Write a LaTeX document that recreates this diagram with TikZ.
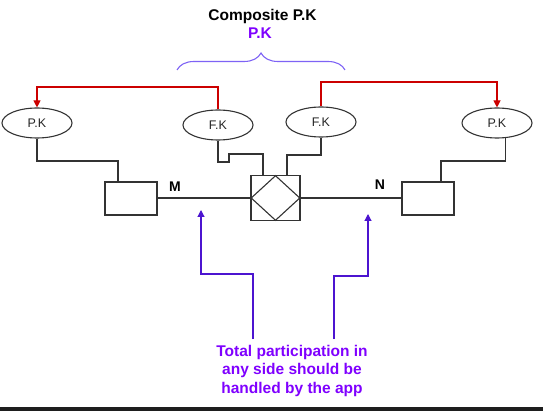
\documentclass[tikz,border=0pt]{standalone}
\usepackage{fontspec}
\setmainfont{Liberation Sans}
\usetikzlibrary{shapes.geometric,arrows.meta,decorations.pathreplacing}
\definecolor{lineg}{HTML}{333333}
\definecolor{redc}{HTML}{CC0000}
\definecolor{vio}{HTML}{7F00FF}
\definecolor{arrv}{HTML}{4C14D0}
\definecolor{bracec}{HTML}{7E63F5}
\definecolor{barc}{HTML}{1E1E1E}
\tikzset{
  attr/.style={draw=lineg,line width=1.1pt,ellipse,minimum width=70pt,minimum height=30pt,inner sep=0pt,font=\fontsize{12.5}{14}\selectfont,text=black!85},
  ent/.style={draw=lineg,line width=1.1pt,rectangle,minimum width=52pt,minimum height=33pt,inner sep=0pt},
  conn/.style={draw=lineg,line width=1.1pt},
  redarr/.style={draw=redc,line width=1.1pt,-{Triangle[width=7pt,length=7pt]}},
  vioarr/.style={draw=arrv,line width=1.1pt,-{Triangle[width=7pt,length=7pt]}},
  lbl/.style={font=\bfseries\fontsize{14}{16}\selectfont,text=black}
}
\begin{document}
\begin{tikzpicture}[x=1pt,y=-1pt]
\useasboundingbox (0,0) rectangle (543,411);
\fill[barc] (0,407) rectangle (543,411);
% title
\node[font=\bfseries\fontsize{15.5}{17}\selectfont] (title) at (262.5,16) {Composite P.K};
\node[font=\bfseries\fontsize{15.5}{17}\selectfont,text=vio] (pkt) at (260,33) {P.K};
\coordinate (brL) at (177,70);
\coordinate (brR) at (345,70);
\draw[bracec,line width=1.1pt,decorate,decoration={brace,amplitude=17pt}] (brL) -- (brR);
% attributes
\node[attr] (pk1) at (37,123) {P.K};
\node[attr] (fk1) at (218,125) {F.K};
\node[attr] (fk2) at (321,122) {F.K};
\node[attr] (pk2) at (497,123) {P.K};
% entities and relationship
\node[ent] (e1) at (131,198.5) {};
\node[ent] (e2) at (428,198.5) {};
\node[draw=lineg,line width=1.1pt,rectangle,minimum width=49pt,minimum height=45pt,inner sep=0pt] (rel) at (275.5,198) {};
\node[draw=lineg,line width=1.1pt,diamond,minimum width=49pt,minimum height=45pt,inner sep=0pt] (dia) at (275.5,198) {};
% connectors
\coordinate (b1) at (118,161);
\draw[conn] (pk1.south) |- (b1) -- (b1 |- e1.north);
\coordinate (b2) at (441,161);
\draw[conn] (pk2.-62) |- (b2) -- (b2 |- e2.north);
\coordinate (f1a) at (229,162);
\coordinate (f1b) at (229,154);
\coordinate (f1c) at (263,154);
\draw[conn] (fk1.south) |- (f1a) -- (f1b) -- (f1c) -- (f1c |- rel.north);
\coordinate (f2a) at (287,155);
\draw[conn] (fk2.south) |- (f2a) -- (f2a |- rel.north);
\draw[conn] (e1.east |- rel.west) -- (rel.west);
\draw[conn] (rel.east) -- (e2.west |- rel.east);
\node[lbl] (m) at (175,186.5) {M};
\node[lbl] (n) at (380,184.5) {N};
% red arrows
\coordinate (r1) at (218,87);
\draw[redarr] (fk1.north) -- (r1) -| (pk1.north);
\coordinate (r2) at (321,82);
\draw[redarr] (fk2.north) -- (r2) -| (pk2.north);
% note
\node[font=\bfseries\fontsize{15.5}{18.5}\selectfont,text=vio,align=center] (note) at (292,370.5) {Total participation in\\any side should be\\handled by the app};
\coordinate (v1a) at (253,339);
\coordinate (v1b) at (253,274);
\coordinate (v1t) at (201,210);
\draw[vioarr] (v1a) -- (v1b) -| (v1t);
\coordinate (v2a) at (334,339);
\coordinate (v2b) at (334,276);
\coordinate (v2t) at (368,214);
\draw[vioarr] (v2a) -- (v2b) -| (v2t);
\end{tikzpicture}
\end{document}
